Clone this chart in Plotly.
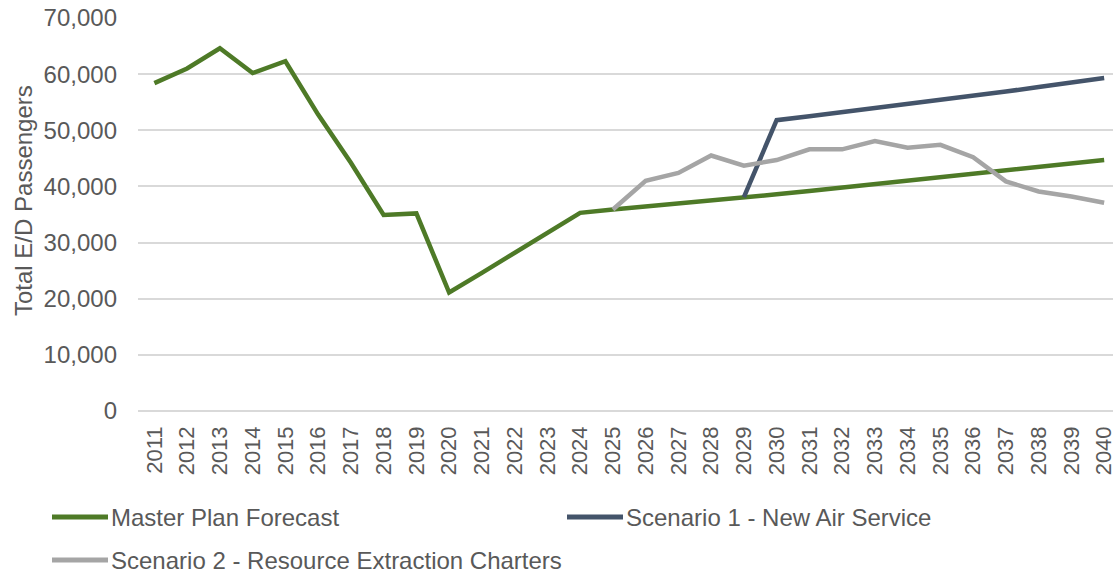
import plotly.graph_objects as go

# Enplaned/deplaned passenger forecast by year
years = list(range(2011, 2041))
year_labels = [str(y) for y in years]

master_plan = [58400, 61000, 64600, 60200, 62300, 52800, 44200, 34900, 35200, 21100,
               24600, 28100, 31700, 35300, 35900, 36400, 37000, 37500, 38100, 38600,
               39200, 39800, 40400, 41000, 41600, 42200, 42900, 43500, 44100, 44700]

scenario_1 = [None] * 18 + [38100, 51800, 52500, 53200, 53900, 54600, 55400,
                            56100, 56900, 57700, 58500, 59300]

scenario_2 = [None] * 14 + [35900, 41000, 42400, 45500, 43700, 44700, 46600, 46600,
                            48100, 46900, 47400, 45200, 40900, 39100, 38200, 37100]

series_names = ["Master Plan Forecast", "Scenario 1 - New Air Service",
                "Scenario 2 - Resource Extraction Charters"]
series_colors = ["#4E7A27", "#44546A", "#A5A5A5"]
series_values = [master_plan, scenario_1, scenario_2]

y_ticks = [0, 10000, 20000, 30000, 40000, 50000, 60000, 70000]
y_tick_labels = ["0", "10,000", "20,000", "30,000", "40,000", "50,000", "60,000", "70,000"]
y_title = "Total E/D Passengers"

FONT = "Arial, Liberation Sans, sans-serif"
TEXT_COLOR = "#595959"

W, H = 1113, 571
M_L, M_R, M_T, M_B = 138, 0, 18, 160

fig = go.Figure()
for name, color, vals in zip(series_names, series_colors, series_values):
    fig.add_trace(go.Scatter(
        x=years, y=vals, name=name, mode="lines",
        line=dict(color=color, width=4.5),
        connectgaps=False, showlegend=False,
    ))

plot_w = W - M_L - M_R
plot_h = H - M_T - M_B


def px_x(px):
    return (px - M_L) / plot_w


def px_y(py):
    return (H - M_B - py) / plot_h


# Legend keys laid out in two columns below the plot
legend_pos = [(52, 517), (567, 517), (52, 560)]
shapes = []
annotations = []
for (lx, ly), name, color in zip(legend_pos, series_names, series_colors):
    shapes.append(dict(
        type="line", xref="paper", yref="paper",
        x0=px_x(lx), x1=px_x(lx + 56), y0=px_y(ly), y1=px_y(ly),
        line=dict(color=color, width=5),
    ))
    annotations.append(dict(
        xref="paper", yref="paper", x=px_x(lx + 57), y=px_y(ly),
        xanchor="left", yanchor="middle", showarrow=False,
        text=name, font=dict(family=FONT, size=24, color=TEXT_COLOR),
    ))

# Vertical axis title
annotations.append(dict(
    xref="paper", yref="paper", x=px_x(23), y=px_y(201),
    xanchor="center", yanchor="middle", showarrow=False, textangle=-90,
    text=y_title, font=dict(family=FONT, size=24, color=TEXT_COLOR),
))

fig.update_layout(
    width=W, height=H,
    margin=dict(l=M_L, r=M_R, t=M_T, b=M_B, autoexpand=False),
    plot_bgcolor="white", paper_bgcolor="white",
    font=dict(family=FONT, color=TEXT_COLOR),
    shapes=shapes, annotations=annotations,
    showlegend=False,
)

fig.update_xaxes(
    range=[2010.5, 2040.27],
    tickmode="array", tickvals=years, ticktext=year_labels,
    tickangle=-90, tickfont=dict(size=22, color=TEXT_COLOR, family=FONT),
    showgrid=False, zeroline=False, showline=False,
    ticks="", ticklabelstandoff=10, ticklabeloverflow="allow",
)

fig.update_yaxes(
    range=[0, 70000],
    tickmode="array", tickvals=y_ticks, ticktext=y_tick_labels,
    tickfont=dict(size=24, color=TEXT_COLOR, family=FONT),
    showgrid=True, gridcolor="#D9D9D9", gridwidth=1.5,
    zeroline=True, zerolinecolor="#D9D9D9", zerolinewidth=1.5,
    showline=False, ticks="", ticklabelstandoff=20,
)

fig.write_html("out.html")
